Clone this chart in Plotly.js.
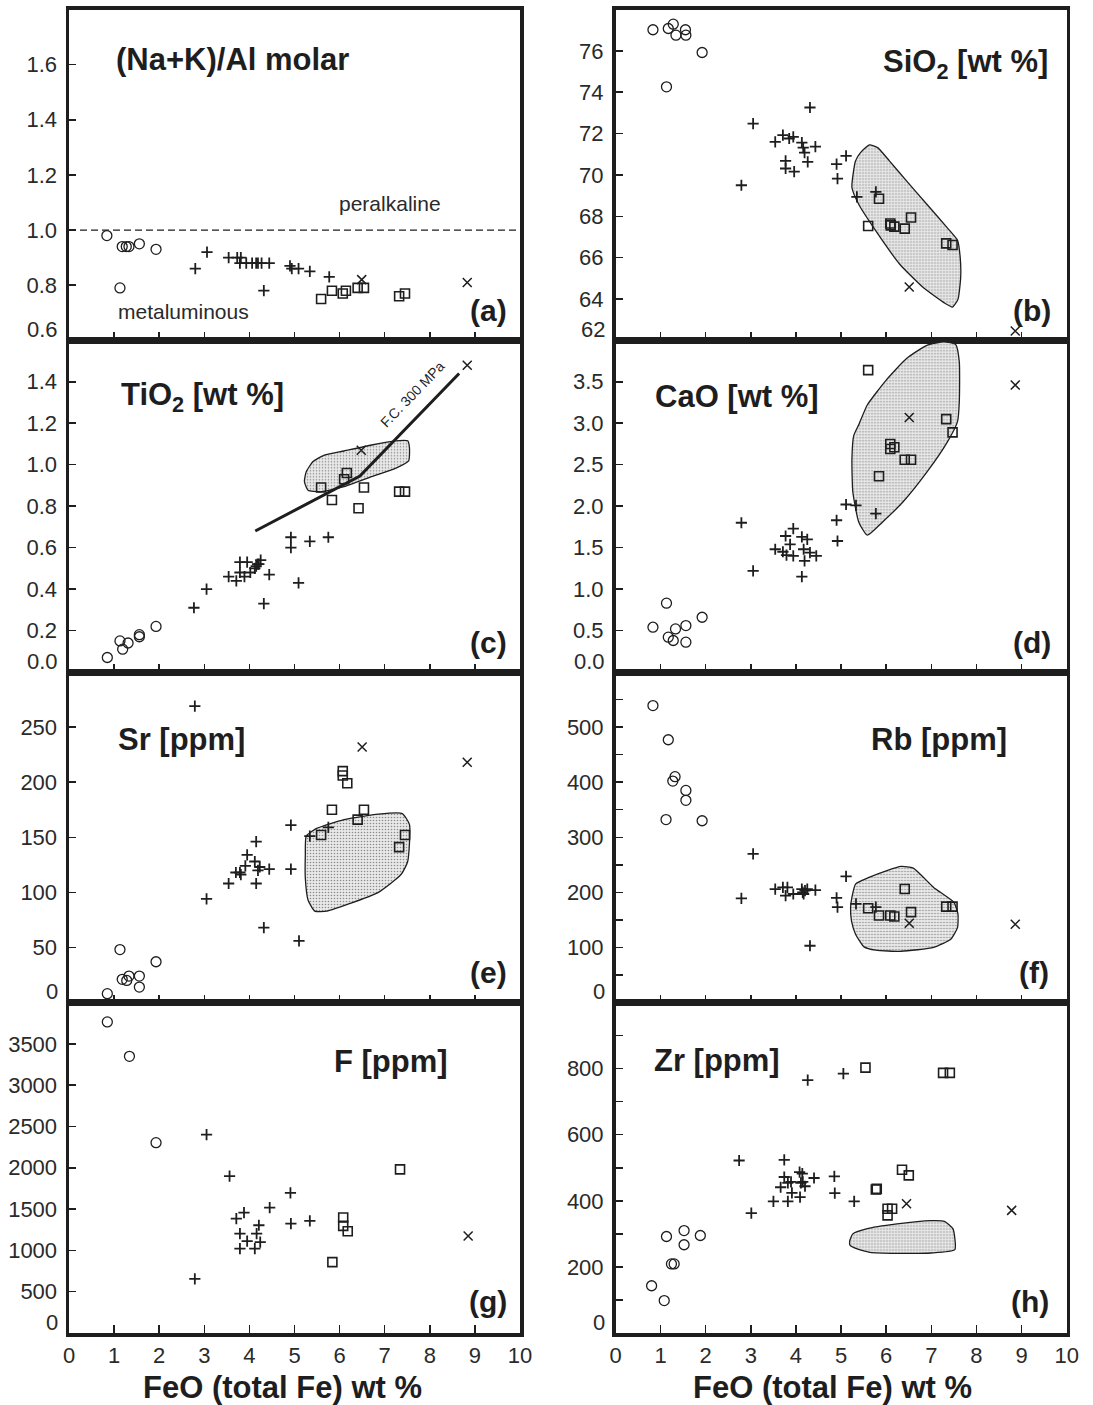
<!DOCTYPE html>
<html>
<head>
<meta charset="utf-8">
<script src="https://cdn.plot.ly/plotly-3.0.1.min.js"></script>
<style>html,body{margin:0;padding:0;background:#fff;}#chart{width:1093px;height:1405px;}</style>
</head>
<body>
<div id="chart"></div>
<script>
// ---------- x axis (shared quantity) ----------
const feoTicks = [0,1,2,3,4,5,6,7,8,9,10];
const feoTitle = 'FeO (total Fe) wt %';

// ---------- (a) (Na+K)/Al molar ----------
const a_circ_x = [0.84,1.13,1.18,1.27,1.33,1.56,1.93];
const a_circ_y = [0.98,0.79,0.94,0.94,0.94,0.95,0.93];
const a_plus_x = [2.80,3.06,3.54,3.73,3.81,3.79,3.93,4.06,4.15,4.19,4.27,4.44,4.32,4.90,4.94,5.09,5.34,5.77];
const a_plus_y = [0.86,0.92,0.90,0.90,0.90,0.88,0.88,0.88,0.88,0.88,0.88,0.88,0.78,0.87,0.86,0.86,0.85,0.83];
const a_sq_x = [5.59,5.83,6.07,6.14,6.40,6.54,7.32,7.45];
const a_sq_y = [0.75,0.78,0.77,0.78,0.79,0.79,0.76,0.77];
const a_x_x = [6.49,8.83];
const a_x_y = [0.82,0.81];
const a_boundary_x = [0,10];
const a_boundary_y = [1.0,1.0];
const a_ticks = [0.6,0.8,1.0,1.2,1.4,1.6];
const a_labels = ['0.6','0.8','1.0','1.2','1.4','1.6'];

// ---------- (b) SiO2 ----------
const b_circ_x = [0.83,1.13,1.17,1.28,1.34,1.55,1.56,1.92];
const b_circ_y = [77.02,74.26,77.08,77.29,76.76,77.02,76.76,75.92];
const b_plus_x = [2.79,3.05,3.54,3.71,3.85,3.94,3.77,3.77,3.96,4.13,4.16,4.19,4.26,4.31,4.43,4.90,4.92,5.11,5.35,5.77];
const b_plus_y = [69.50,72.48,71.60,71.92,71.76,71.84,70.68,70.31,70.16,71.56,71.32,71.08,70.63,73.26,71.37,70.52,69.82,70.92,68.94,69.18];
const b_sq_x = [5.60,5.84,6.09,6.10,6.18,6.41,6.55,7.33,7.47];
const b_sq_y = [67.53,68.85,67.65,67.56,67.50,67.40,67.94,66.69,66.61];
const b_x_x = [6.51,8.86];
const b_x_y = [64.58,62.45];
const b_field_x = [5.24,5.32,5.43,5.63,5.81,6.07,6.45,6.90,7.35,7.58,7.64,7.65,7.59,7.47,7.28,6.82,6.30,5.77,5.39,5.24];
const b_field_y = [69.39,70.68,71.08,71.45,71.32,70.68,69.71,68.58,67.45,66.84,66.00,65.03,63.98,63.61,63.82,64.55,65.68,67.29,68.58,69.39];
const b_ticks = [62,64,66,68,70,72,74,76];
const b_labels = ['62','64','66','68','70','72','74','76'];

// ---------- (c) TiO2 ----------
const c_circ_x = [0.85,1.13,1.19,1.31,1.56,1.56,1.93];
const c_circ_y = [0.07,0.15,0.11,0.14,0.18,0.17,0.22];
const c_plus_x = [2.77,3.05,3.54,3.71,3.79,3.79,3.89,3.95,4.02,4.12,4.15,4.18,4.21,4.25,4.44,4.32,4.92,4.92,5.09,5.34,5.75];
const c_plus_y = [0.31,0.40,0.46,0.44,0.53,0.48,0.46,0.53,0.48,0.50,0.51,0.52,0.52,0.54,0.47,0.33,0.65,0.60,0.43,0.63,0.65];
const c_sq_x = [5.59,5.83,6.10,6.16,6.42,6.54,7.32,7.45];
const c_sq_y = [0.89,0.83,0.93,0.96,0.79,0.89,0.87,0.87];
const c_x_x = [6.48,8.83];
const c_x_y = [1.07,1.48];
const c_fc_x = [4.13,5.80,6.45,8.65];
const c_fc_y = [0.68,0.87,0.945,1.44];
const c_field_x = [5.22,5.26,5.41,5.64,6.10,6.71,7.24,7.51,7.55,7.53,7.24,6.71,6.10,5.57,5.30,5.22];
const c_field_y = [0.918,0.966,1.015,1.044,1.066,1.095,1.115,1.115,1.079,1.018,0.982,0.942,0.894,0.869,0.877,0.918];
const c_ticks = [0.0,0.2,0.4,0.6,0.8,1.0,1.2,1.4];
const c_labels = ['0.0','0.2','0.4','0.6','0.8','1.0','1.2','1.4'];

// ---------- (d) CaO ----------
const d_circ_x = [0.83,1.13,1.17,1.28,1.33,1.56,1.56,1.92];
const d_circ_y = [0.54,0.83,0.42,0.38,0.52,0.56,0.36,0.66];
const d_plus_x = [2.79,3.05,3.54,3.71,3.77,3.79,3.87,3.94,3.94,4.13,4.13,4.17,4.19,4.25,4.31,4.45,4.90,4.92,5.11,5.33,5.77];
const d_plus_y = [1.80,1.22,1.48,1.45,1.64,1.41,1.54,1.40,1.73,1.15,1.63,1.48,1.34,1.60,1.44,1.40,1.83,1.58,2.02,2.01,1.91];
const d_sq_x = [5.60,5.84,6.09,6.09,6.18,6.41,6.55,7.33,7.47];
const d_sq_y = [3.64,2.36,2.75,2.69,2.71,2.56,2.56,3.05,2.89];
const d_x_x = [6.51,8.86];
const d_x_y = [3.07,3.46];
const d_field_x = [5.39,5.58,6.00,6.45,6.90,7.28,7.54,7.62,7.62,7.58,7.35,6.90,6.37,5.92,5.58,5.39,5.26,5.24,5.28,5.39];
const d_field_y = [2.98,3.22,3.52,3.78,3.94,3.98,3.95,3.74,3.26,3.02,2.77,2.41,2.05,1.81,1.65,1.81,2.17,2.57,2.85,2.98];
const d_ticks = [0.0,0.5,1.0,1.5,2.0,2.5,3.0,3.5];
const d_labels = ['0.0','0.5','1.0','1.5','2.0','2.5','3.0','3.5'];

// ---------- (e) Sr ----------
const e_circ_x = [0.85,1.13,1.18,1.28,1.33,1.56,1.56,1.93];
const e_circ_y = [8,48,21,20,24,24,14,37];
const e_plus_x = [2.79,3.05,3.54,3.70,3.79,3.81,3.91,3.95,4.12,4.15,4.15,4.19,4.23,4.44,4.32,4.92,4.92,5.10,5.34,5.75];
const e_plus_y = [269,94,108,118,118,116,124,134,128,146,108,120,123,121,68,161,121,56,151,159];
const e_sq_x = [5.59,5.83,6.07,6.07,6.17,6.40,6.54,7.32,7.45];
const e_sq_y = [152,175,210,206,199,166,175,141,152];
const e_x_x = [6.50,8.83];
const e_x_y = [232,218];
const e_field_x = [5.26,5.49,6.10,6.86,7.39,7.55,7.51,7.36,6.86,6.17,5.72,5.45,5.30,5.24,5.24,5.26];
const e_field_y = [151,158,166,171,171.5,161.5,128,116,100,89,83,83,93,113,134,151];
const e_ticks = [0,50,100,150,200,250];
const e_labels = ['0','50','100','150','200','250'];

// ---------- (f) Rb ----------
const f_circ_x = [0.83,1.17,1.32,1.27,1.56,1.56,1.12,1.92];
const f_circ_y = [539,477,410,402,385,367,332,330];
const f_plus_x = [2.79,3.05,3.54,3.71,3.77,3.81,3.94,4.13,4.15,4.17,4.20,4.25,4.43,4.31,4.90,4.92,5.11,5.33,5.77];
const f_plus_y = [189,270,206,209,194,209,197,206,200,197,203,206,204,103,190,173,229,179,173];
const f_sq_x = [5.60,5.84,6.09,6.18,6.41,6.55,7.33,7.47];
const f_sq_y = [171,158,158,156,206,164,174,174];
const f_x_x = [6.51,8.86];
const f_x_y = [144,142];
const f_field_x = [5.24,5.32,5.62,6.00,6.33,6.60,7.05,7.50,7.59,7.58,7.43,7.05,6.33,5.77,5.51,5.32,5.23,5.21,5.24];
const f_field_y = [191,215,227,239,247,244,209,182,161,136,115,100,93,95,101,124,148,173,191];
const f_ticks = [0,50,100,150,200,250,300,350,400,450,500,550];
const f_labels = ['0','','100','','200','','300','','400','','500',''];

// ---------- (g) F ----------
const g_circ_x = [0.85,1.34,1.93];
const g_circ_y = [3765,3348,2304];
const g_plus_x = [2.79,3.05,3.56,3.71,3.88,3.79,3.95,3.79,4.12,4.16,4.21,4.24,4.45,4.91,4.92,5.34];
const g_plus_y = [656,2401,1899,1385,1457,1202,1113,1020,1020,1202,1304,1101,1518,1696,1324,1356];
const g_sq_x = [5.84,6.08,6.08,6.18,7.34];
const g_sq_y = [858,1397,1296,1231,1980];
const g_x_x = [8.85];
const g_x_y = [1174];
const g_ticks = [0,500,1000,1500,2000,2500,3000,3500];
const g_labels = ['0','500','1000','1500','2000','2500','3000','3500'];

// ---------- (h) Zr ----------
const h_circ_x = [0.80,1.08,1.13,1.24,1.30,1.52,1.52,1.88];
const h_circ_y = [143,98,292,209,209,310,267,295];
const h_plus_x = [2.74,3.01,3.50,3.66,3.74,3.74,3.82,3.82,3.89,3.91,4.08,4.09,4.11,4.14,4.15,4.20,4.40,4.26,4.85,4.86,5.05,5.29];
const h_plus_y = [522,363,398,441,524,472,454,398,457,424,487,411,454,482,457,444,469,765,474,423,785,398];
const h_sq_x = [5.54,5.77,5.79,6.03,6.13,6.03,6.35,6.50,7.26,7.41];
const h_sq_y = [803,434,436,376,376,356,494,477,787,787];
const h_x_x = [6.45,8.78];
const h_x_y = [391,371];
const h_field_x = [5.19,5.26,5.56,6.24,6.99,7.29,7.48,7.52,6.99,6.24,5.64,5.34,5.20,5.19];
const h_field_y = [278,300,315,330,340,338,315,252,242,241,244,255,265,278];
const h_ticks = [0,100,200,300,400,500,600,700,800,900];
const h_labels = ['0','','200','','400','','600','','800',''];

// ---------- panel labels ----------
const panelTitles = ['(Na+K)/Al molar','SiO<sub>2</sub> [wt %]','TiO<sub>2</sub> [wt %]','CaO [wt %]','Sr [ppm]','Rb [ppm]','F [ppm]','Zr [ppm]'];
const panelLetters = ['(a)','(b)','(c)','(d)','(e)','(f)','(g)','(h)'];

// ---------- styling / layout (not data) ----------
const FONT = 'Arial, "Liberation Sans", sans-serif';
const INK = '#1e1e1e';
const TICKINK = '#2a2a2a';
const colDom = [[69/1093, 520/1093],[615.5/1093, 1066.7/1093]];
const rowPx = [[9.5,340.3],[340.3,672],[672,1002.5],[1002.5,1333]];
const rowDom = rowPx.map(r => [1 - r[1]/1405, 1 - r[0]/1405]);

const panels = [
  {circ:[a_circ_x,a_circ_y], plus:[a_plus_x,a_plus_y], sq:[a_sq_x,a_sq_y], xx:[a_x_x,a_x_y], range:[0.6,1.8], tv:a_ticks, tt:a_labels,
   title:{x:0.10,y:0.85,anchor:'left'}, letter:{x:0.976,y:0.09}},
  {circ:[b_circ_x,b_circ_y], plus:[b_plus_x,b_plus_y], sq:[b_sq_x,b_sq_y], xx:[b_x_x,b_x_y], field:[b_field_x,b_field_y], range:[62,78], tv:b_ticks, tt:b_labels,
   title:{x:0.962,y:0.835,anchor:'right'}, letter:{x:0.97,y:0.09}},
  {circ:[c_circ_x,c_circ_y], plus:[c_plus_x,c_plus_y], sq:[c_sq_x,c_sq_y], xx:[c_x_x,c_x_y], field:[c_field_x,c_field_y], range:[0,1.6], tv:c_ticks, tt:c_labels,
   title:{x:0.111,y:0.83,anchor:'left'}, letter:{x:0.976,y:0.09}},
  {circ:[d_circ_x,d_circ_y], plus:[d_plus_x,d_plus_y], sq:[d_sq_x,d_sq_y], xx:[d_x_x,d_x_y], field:[d_field_x,d_field_y], range:[0,4], tv:d_ticks, tt:d_labels,
   title:{x:0.083,y:0.83,anchor:'left'}, letter:{x:0.97,y:0.09}},
  {circ:[e_circ_x,e_circ_y], plus:[e_plus_x,e_plus_y], sq:[e_sq_x,e_sq_y], xx:[e_x_x,e_x_y], field:[e_field_x,e_field_y], range:[0,300], tv:e_ticks, tt:e_labels,
   title:{x:0.104,y:0.795,anchor:'left'}, letter:{x:0.976,y:0.09}},
  {circ:[f_circ_x,f_circ_y], plus:[f_plus_x,f_plus_y], sq:[f_sq_x,f_sq_y], xx:[f_x_x,f_x_y], field:[f_field_x,f_field_y], range:[0,600], tv:f_ticks, tt:f_labels,
   title:{x:0.562,y:0.795,anchor:'left'}, letter:{x:0.966,y:0.09}},
  {circ:[g_circ_x,g_circ_y], plus:[g_plus_x,g_plus_y], sq:[g_sq_x,g_sq_y], xx:[g_x_x,g_x_y], range:[0,4000], tv:g_ticks, tt:g_labels,
   title:{x:0.583,y:0.822,anchor:'left'}, letter:{x:0.976,y:0.095}},
  {circ:[h_circ_x,h_circ_y], plus:[h_plus_x,h_plus_y], sq:[h_sq_x,h_sq_y], xx:[h_x_x,h_x_y], field:[h_field_x,h_field_y], range:[0,1000], tv:h_ticks, tt:h_labels,
   title:{x:0.081,y:0.825,anchor:'left'}, letter:{x:0.966,y:0.095}}
];

const traces = [];
const layout = {
  width:1093, height:1405, margin:{l:0,r:0,t:0,b:0},
  paper_bgcolor:'#fff', plot_bgcolor:'#fff', showlegend:false,
  font:{family:FONT, color:INK},
  annotations:[], shapes:[]
};

panels.forEach((p,i) => {
  const n = i+1;
  const xa = 'x'+n, ya = 'y'+n;
  const col = i % 2, row = Math.floor(i/2);
  const bottom = row === 3;
  if (p.field) {
    traces.push({type:'scatter', mode:'lines', x:p.field[0], y:p.field[1], xaxis:xa, yaxis:ya,
      fill:'toself', fillcolor:'#dcdcdc',
      fillpattern:{shape:'.', bgcolor:'#e9e9e9', fgcolor:'#8c8c8c', size:3, solidity:0.22},
      line:{color:INK, width:1.3, shape:'spline', smoothing:0.5}, hoverinfo:'skip'});
  }
  if (i === 0) {
    traces.push({type:'scatter', mode:'lines', x:a_boundary_x, y:a_boundary_y, xaxis:xa, yaxis:ya,
      line:{color:INK, width:1.2, dash:'7px,4px'}});
  }
  if (i === 2) {
    traces.push({type:'scatter', mode:'lines', x:c_fc_x, y:c_fc_y, xaxis:xa, yaxis:ya,
      line:{color:INK, width:3}});
  }
  traces.push({type:'scatter', mode:'markers', x:p.circ[0], y:p.circ[1], xaxis:xa, yaxis:ya,
    marker:{symbol:'circle-open', size:10, line:{width:1.3, color:INK}, color:INK}});
  traces.push({type:'scatter', mode:'markers', x:p.plus[0], y:p.plus[1], xaxis:xa, yaxis:ya,
    marker:{symbol:'cross-thin-open', size:8, line:{width:1.8, color:INK}, color:INK}});
  traces.push({type:'scatter', mode:'markers', x:p.sq[0], y:p.sq[1], xaxis:xa, yaxis:ya,
    marker:{symbol:'square-open', size:9, line:{width:1.6, color:INK}, color:INK}});
  traces.push({type:'scatter', mode:'markers', x:p.xx[0], y:p.xx[1], xaxis:xa, yaxis:ya,
    marker:{symbol:'x-thin-open', size:9, line:{width:1.5, color:INK}, color:INK}});

  layout['xaxis'+(n===1?'':n)] = {
    domain:colDom[col], anchor:ya, range:[0,10], tickvals:feoTicks,
    showticklabels:bottom, ticks:'inside', ticklen:8, tickwidth:1.5, tickcolor:INK,
    showline:true, linewidth:3.5, linecolor:INK, mirror:true,
    showgrid:false, zeroline:false, fixedrange:true,
    tickfont:{size:22, family:FONT, color:TICKINK}
  };
  // lowest tick label sits a little above the frame corner, as in the original
  const shownText = p.tt.map((t,k) => k === 0 ? '' : t);
  layout['yaxis'+(n===1?'':n)] = {
    domain:rowDom[row], anchor:xa, range:p.range, tickvals:p.tv, ticktext:shownText,
    ticks:'inside', ticklen:7, tickwidth:1.5, tickcolor:INK,
    showline:true, linewidth:3.5, linecolor:INK, mirror:true,
    showgrid:false, zeroline:false, fixedrange:true, ticklabelstandoff:4,
    tickfont:{size:22, family:FONT, color:TICKINK}
  };
  layout.annotations.push({xref:xa+' domain', yref:ya, x:0, y:p.tv[0], xanchor:'right', yanchor:'middle',
    xshift:-9, yshift:11, showarrow:false, text:p.tt[0], font:{size:22, family:FONT, color:TICKINK}});

  layout.annotations.push({xref:xa+' domain', yref:ya+' domain', x:p.title.x, y:p.title.y,
    xanchor:p.title.anchor, yanchor:'middle', showarrow:false,
    text:'<b>'+panelTitles[i]+'</b>', font:{size:31, family:FONT, color:INK}});
  layout.annotations.push({xref:xa+' domain', yref:ya+' domain', x:p.letter.x, y:p.letter.y,
    xanchor:'right', yanchor:'middle', showarrow:false,
    text:'<b>'+panelLetters[i]+'</b>', font:{size:30, family:FONT, color:INK}});
});

// x-axis titles under each column
[[282/1093],[832/1093]].forEach(c => {
  layout.annotations.push({xref:'paper', yref:'paper', x:c[0], y:1-1387/1405, xanchor:'center', yanchor:'middle',
    showarrow:false, text:'<b>'+feoTitle+'</b>', font:{size:31, family:FONT, color:INK}});
});

// extra texts in (a) and (c)
layout.annotations.push({xref:'x domain', yref:'y domain', x:0.712, y:0.415, xanchor:'center', yanchor:'middle',
  showarrow:false, text:'peralkaline', font:{size:21, family:FONT, color:TICKINK}});
layout.annotations.push({xref:'x domain', yref:'y domain', x:0.253, y:0.088, xanchor:'center', yanchor:'middle',
  showarrow:false, text:'metaluminous', font:{size:21, family:FONT, color:TICKINK}});
layout.annotations.push({xref:'x3', yref:'y3', x:7.62, y:1.34, xanchor:'center', yanchor:'middle',
  showarrow:false, text:'F.C. 300 MPa', textangle:-46, font:{size:14, family:FONT, color:INK}});

Plotly.newPlot('chart', traces, layout, {displayModeBar:false, staticPlot:true});
</script>
</body>
</html>
